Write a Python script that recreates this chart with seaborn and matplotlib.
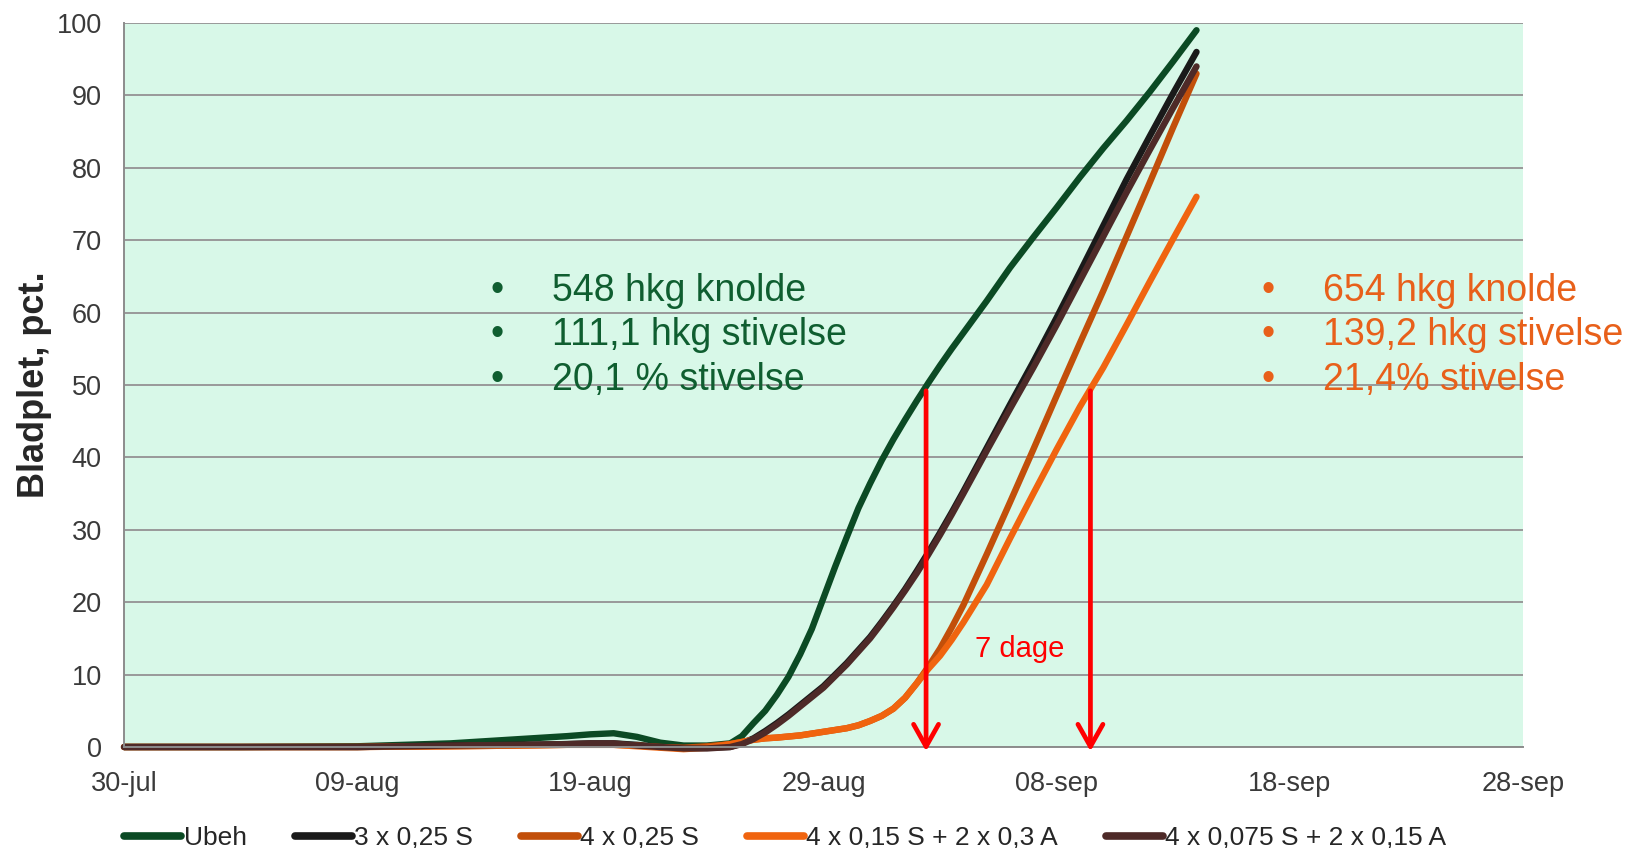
import matplotlib
matplotlib.use("Agg")
import matplotlib.pyplot as plt
import matplotlib.dates as mdates
from matplotlib.ticker import FuncFormatter
import seaborn as sns
import numpy as np
import pandas as pd

# Observation days, counted from 30-jul
start = pd.Timestamp("2013-07-30")
days = [0, 5, 10, 14, 17, 19, 20, 21, 22, 23, 24, 25,
        26, 26.5, 27, 27.5, 28, 28.5, 29, 29.5, 30, 30.5, 31, 31.5, 32, 32.5,
        33, 33.5, 34, 34.5, 35, 35.5, 36, 37, 38, 39, 40, 41, 42, 43, 44, 45, 46]

# Bladplet, pct. per treatment
ubeh = [0, 0, 0.1, 0.5, 1.1, 1.5, 1.75, 1.9, 1.4, 0.6, 0.2, 0.2,
        0.5, 1.5, 3.3, 5.0, 7.2, 9.7, 12.8, 16.3, 20.6, 24.9, 29.0, 33.0, 36.4, 39.6,
        42.5, 45.2, 47.8, 50.3, 52.7, 55.0, 57.2, 61.6, 66.2, 70.4, 74.5, 78.7, 82.7, 86.5, 90.5, 94.7, 99.0]
s3_025 = [0, 0, 0, 0.2, 0.3, 0.4, 0.5, 0.5, 0.3, 0, -0.1, -0.1,
          0, 0.5, 1.2, 2.2, 3.3, 4.5, 5.8, 7.1, 8.4, 10.0, 11.6, 13.4, 15.2, 17.3,
          19.5, 21.8, 24.3, 26.9, 29.6, 32.4, 35.3, 41.3, 47.3, 53.2, 59.3, 65.6, 72.0, 78.4, 84.4, 90.3, 96.0]
s4_025 = [0, 0, 0, 0.1, 0.2, 0.3, 0.3, 0.3, 0.2, 0, -0.1, 0.1,
          0.4, 0.7, 1.0, 1.2, 1.3, 1.45, 1.6, 1.85, 2.1, 2.35, 2.6, 3.0, 3.6, 4.3,
          5.3, 6.8, 8.8, 11.1, 13.6, 16.5, 19.6, 26.6, 33.8, 41.1, 48.5, 55.8, 63.0, 70.5, 78.0, 85.6, 93.0]
s4_015_a = [0, 0, 0, 0.1, 0.2, 0.3, 0.3, 0.3, 0.1, -0.1, -0.3, -0.1,
            0.4, 0.7, 1.0, 1.2, 1.3, 1.45, 1.6, 1.85, 2.1, 2.35, 2.6, 3.0, 3.6, 4.3,
            5.3, 6.8, 8.8, 10.8, 12.6, 14.8, 17.2, 22.4, 28.8, 35.0, 41.1, 47.0, 52.4, 58.3, 64.3, 70.2, 76.0]
s4_0075_a = [0, 0, 0, 0.2, 0.3, 0.4, 0.5, 0.5, 0.2, 0, -0.2, -0.2,
             0, 0.4, 1.1, 2.0, 3.1, 4.3, 5.6, 6.9, 8.2, 9.8, 11.4, 13.2, 15.0, 17.1,
             19.3, 21.6, 24.0, 26.6, 29.3, 32.1, 35.0, 40.9, 46.7, 52.4, 58.3, 64.4, 70.5, 76.6, 82.5, 88.3, 94.0]

labels = ["Ubeh", "3 x 0,25 S", "4 x 0,25 S", "4 x 0,15 S + 2 x 0,3 A", "4 x 0,075 S + 2 x 0,15 A"]
colors = ["#0b4a24", "#1a1a1a", "#c24f0a", "#f0640f", "#4e2a28"]

tick_days = [0, 10, 20, 30, 40, 50, 60]
y_ticks = [0, 10, 20, 30, 40, 50, 60, 70, 80, 90, 100]

green_text = ["548 hkg knolde", "111,1 hkg stivelse", "20,1 % stivelse"]
orange_text = ["654 hkg knolde", "139,2 hkg stivelse", "21,4% stivelse"]

# days where Ubeh and the best treatment reach 50 pct.
arrow_days = [34.4, 41.45]
arrow_top = 49.2
arrow_text = "7 dage"

sns.set_style("white")
plt.rcParams["font.family"] = ["Liberation Sans", "DejaVu Sans"]

dates = start + pd.to_timedelta(days, unit="D")
frames = []
for lab, vals in zip(labels, [ubeh, s3_025, s4_025, s4_015_a, s4_0075_a]):
    frames.append(pd.DataFrame({"dato": dates, "bladplet": vals, "behandling": lab}))
df = pd.concat(frames, ignore_index=True)

fig = plt.figure(figsize=(16.26, 8.48), dpi=100)
ax = fig.add_axes([0.0763, 0.1191, 0.8603, 0.8538])

sns.lineplot(data=df, x="dato", y="bladplet", hue="behandling", hue_order=labels,
             palette=colors, lw=4.6, ax=ax)
for line in ax.lines:
    line.set_clip_on(False)
    line.set_solid_capstyle("round")
    line.set_solid_joinstyle("round")

handles, labs = ax.get_legend_handles_labels()
ax.get_legend().remove()

ax.set_facecolor("#d8f8e8")
ax.set_ylim(0, 100)
ax.set_xlim(start, start + pd.Timedelta(days=60))
ax.set_yticks(y_ticks)
ax.set_xticks([start + pd.Timedelta(days=d) for d in tick_days])
ax.xaxis.set_major_formatter(FuncFormatter(lambda v, p: mdates.num2date(v).strftime("%d-%b").lower()))
ax.grid(axis="y", color="#999999", lw=1.4)
ax.set_axisbelow(True)
for s in ["top", "right"]:
    ax.spines[s].set_visible(False)
for s in ["left", "bottom"]:
    ax.spines[s].set_color("#8c8c8c")
    ax.spines[s].set_linewidth(1.4)
ax.tick_params(axis="both", direction="out", length=7, width=1.4, color="#8c8c8c",
               labelsize=19.5, labelcolor="#3a3a3a")
ax.tick_params(axis="y", pad=9)
ax.tick_params(axis="x", pad=10)
ax.set_xlabel("")
ax.set_ylabel("Bladplet, pct.", fontsize=26, fontweight="bold", color="#262626")
ax.yaxis.set_label_coords(-0.0516, 0.5)

# arrows and "7 dage"
for d in arrow_days:
    xd = mdates.date2num(start + pd.Timedelta(days=d))
    ax.annotate("", xy=(xd, -0.6), xytext=(xd, arrow_top),
                arrowprops=dict(arrowstyle="->,head_length=0.8,head_width=0.45", color="#ff0000",
                                lw=3.4, shrinkA=0, shrinkB=0, mutation_scale=20),
                annotation_clip=False)
ax.text(0.6083, 0.1247, arrow_text, transform=ax.transAxes, color="#ff0000", fontsize=21,
        ha="left", va="baseline")

# yield boxes
rows_y = [0.6164, 0.5552, 0.4931]
for t, y in zip(green_text, rows_y):
    ax.text(0.2666, y, "\u2022", transform=ax.transAxes, color="#0f5e30", fontsize=27,
            ha="center", va="baseline")
    ax.text(0.3057, y, t, transform=ax.transAxes, color="#0f5e30", fontsize=27,
            ha="left", va="baseline")
for t, y in zip(orange_text, rows_y):
    ax.text(0.8177, y, "\u2022", transform=ax.transAxes, color="#e8601a", fontsize=27,
            ha="center", va="baseline", clip_on=False)
    ax.text(0.8568, y, t, transform=ax.transAxes, color="#e8601a", fontsize=27,
            ha="left", va="baseline", clip_on=False)

for h in handles:
    h.set_linewidth(5.5)
fig.legend(handles, labs, loc="center", bbox_to_anchor=(0.483, 0.012), ncol=5, frameon=False,
           fontsize=19, handlelength=2.16, handletextpad=0.1, columnspacing=1.8)

fig.savefig("out.png", dpi=100)
